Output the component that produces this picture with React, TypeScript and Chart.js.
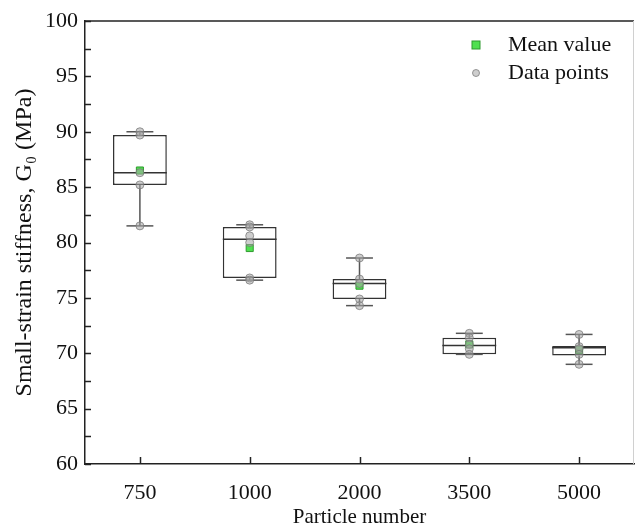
import React, { useEffect, useRef } from "react";
import { Chart, registerables } from "chart.js";

Chart.register(...registerables);

const categories = ["750", "1000", "2000", "3500", "5000"];
const q1 = [85.2, 76.8, 74.9, 69.9, 69.8];
const medians = [86.3, 80.3, 76.3, 70.7, 70.5];
const q3 = [89.7, 81.4, 76.7, 71.4, 70.65];
const whiskerLow = [81.5, 76.6, 74.3, 69.9, 69.0];
const whiskerHigh = [90.0, 81.6, 78.6, 71.8, 71.7];
const means = [86.5, 79.5, 76.1, 70.8, 70.3];
const points750 = [90.0, 89.7, 86.3, 85.2, 81.5];
const points1000 = [81.6, 81.4, 80.6, 80.0, 76.8, 76.6];
const points2000 = [78.6, 76.7, 76.3, 74.9, 74.3];
const points3500 = [71.8, 71.4, 70.8, 70.4, 69.9];
const points5000 = [71.7, 70.6, 70.4, 69.9, 69.0];
const dataPoints = [points750, points1000, points2000, points3500, points5000];
const yTicks = [60, 65, 70, 75, 80, 85, 90, 95, 100];
const legendLabels = ["Mean value", "Data points"];

const FONT = "'Liberation Serif', 'Times New Roman', serif";
const MEAN_FILL = "#50e050";
const MEAN_BORDER = "#2f9a2f";
const PT_FILL = "rgba(165,165,165,0.55)";
const PT_BORDER = "rgba(120,120,120,0.75)";

const boxPlugin = {
  id: "boxExtras",
  afterDatasetDraw(chart: any, args: any) {
    if (args.index !== 0) return;
    const ctx = chart.ctx;
    const x = chart.scales.x;
    const y = chart.scales.y;
    const meta = chart.getDatasetMeta(0);
    ctx.save();
    categories.forEach((c, i) => {
      const bar = meta.data[i];
      const cx = x.getPixelForValue(i);
      const half = bar.width / 2;
      ctx.strokeStyle = "#333";
      ctx.lineWidth = 1.5;
      ctx.beginPath();
      ctx.moveTo(cx - half, y.getPixelForValue(medians[i]));
      ctx.lineTo(cx + half, y.getPixelForValue(medians[i]));
      ctx.stroke();
      ctx.strokeStyle = "#555";
      ctx.lineWidth = 1.5;
      const capHalf = half / 2;
      const pairs = [
        [q3[i], whiskerHigh[i]],
        [q1[i], whiskerLow[i]],
      ];
      pairs.forEach(([from, to]) => {
        const yf = y.getPixelForValue(from);
        const yt = y.getPixelForValue(to);
        ctx.beginPath();
        ctx.moveTo(cx, yf);
        ctx.lineTo(cx, yt);
        ctx.stroke();
        ctx.beginPath();
        ctx.moveTo(cx - capHalf, yt);
        ctx.lineTo(cx + capHalf, yt);
        ctx.stroke();
      });
    });
    ctx.restore();
  },
  afterDraw(chart: any) {
    const ctx = chart.ctx;
    const area = chart.chartArea;
    const x = chart.scales.x;
    const y = chart.scales.y;
    ctx.save();
    ctx.strokeStyle = "#222";
    ctx.lineWidth = 1.5;
    ctx.beginPath();
    ctx.moveTo(area.left, area.top);
    ctx.lineTo(area.right, area.top);
    ctx.stroke();
    ctx.strokeStyle = "#d0d0d0";
    ctx.lineWidth = 1;
    ctx.beginPath();
    ctx.moveTo(area.right - 0.5, area.top);
    ctx.lineTo(area.right - 0.5, area.bottom);
    ctx.stroke();
    ctx.strokeStyle = "#222";
    ctx.lineWidth = 1.5;
    for (let v = 60; v <= 100; v += 2.5) {
      const py = Math.round(y.getPixelForValue(v)) + 0.5;
      ctx.beginPath();
      ctx.moveTo(area.left, py);
      ctx.lineTo(area.left + 6, py);
      ctx.stroke();
    }
    categories.forEach((c, i) => {
      const px = Math.round(x.getPixelForValue(i)) + 0.5;
      ctx.beginPath();
      ctx.moveTo(px, area.bottom);
      ctx.lineTo(px, area.bottom - 7);
      ctx.stroke();
    });
    const lx = 476;
    const rows = [45, 73];
    ctx.fillStyle = MEAN_FILL;
    ctx.strokeStyle = MEAN_BORDER;
    ctx.lineWidth = 1;
    ctx.fillRect(lx - 4, rows[0] - 4, 8, 8);
    ctx.strokeRect(lx - 4, rows[0] - 4, 8, 8);
    ctx.beginPath();
    ctx.arc(lx, rows[1], 3.5, 0, Math.PI * 2);
    ctx.fillStyle = PT_FILL;
    ctx.fill();
    ctx.strokeStyle = PT_BORDER;
    ctx.stroke();
    ctx.fillStyle = "#111";
    ctx.font = `22px ${FONT}`;
    ctx.textBaseline = "middle";
    ctx.textAlign = "left";
    ctx.fillText(legendLabels[0], 508, rows[0]);
    ctx.fillText(legendLabels[1], 508, rows[1]);
    ctx.restore();
  },
};

export default function App() {
  const ref = useRef<HTMLCanvasElement>(null);
  useEffect(() => {
    if (!ref.current) return;
    const pointData: any[] = [];
    dataPoints.forEach((arr, i) =>
      arr.forEach((v) => pointData.push({ x: categories[i], y: v }))
    );
    const chart = new Chart(ref.current, {
      type: "bar",
      data: {
        labels: categories,
        datasets: [
          {
            type: "bar",
            label: "box",
            data: categories.map((c, i) => [q1[i], q3[i]]) as any,
            backgroundColor: "#ffffff",
            borderColor: "#333",
            borderWidth: 1.5,
            borderSkipped: false,
            barPercentage: 0.49,
            categoryPercentage: 1,
            order: 3,
          } as any,
          {
            type: "scatter",
            label: legendLabels[0],
            data: means.map((m, i) => ({ x: categories[i], y: m })) as any,
            pointStyle: "rect",
            pointRadius: 5,
            backgroundColor: MEAN_FILL,
            borderColor: MEAN_BORDER,
            borderWidth: 1,
            order: 2,
          } as any,
          {
            type: "scatter",
            label: legendLabels[1],
            data: pointData,
            pointStyle: "circle",
            pointRadius: 4,
            backgroundColor: PT_FILL,
            borderColor: PT_BORDER,
            borderWidth: 1,
            order: 1,
          } as any,
        ],
      },
      options: {
        animation: false,
        responsive: false,
        devicePixelRatio: 1,
        layout: { autoPadding: false, padding: { top: 21, right: 1, left: 0, bottom: 0 } },
        plugins: { legend: { display: false }, tooltip: { enabled: false } },
        scales: {
          x: {
            type: "category",
            labels: categories,
            offset: true,
            grid: { display: false, drawTicks: false },
            border: { display: true, color: "#222", width: 1.5 },
            ticks: { color: "#111", font: { family: FONT, size: 22 }, padding: 16 },
            title: {
              display: true,
              text: "Particle number",
              color: "#111",
              font: { family: FONT, size: 21 },
              padding: { top: 0, bottom: 0 },
            },
            afterFit: (s: any) => {
              s.height = 66;
              s.paddingLeft = 0;
              s.paddingRight = 0;
            },
          },
          y: {
            min: 60,
            max: 100,
            afterBuildTicks: (s: any) => {
              s.ticks = yTicks.map((v) => ({ value: v }));
            },
            grid: { display: false, drawTicks: false },
            border: { display: true, color: "#222", width: 1.5 },
            ticks: { color: "#111", font: { family: FONT, size: 22 }, padding: 7 },
            title: {
              display: true,
              text: "Small-strain stiffness, G₀ (MPa)",
              color: "#111",
              font: { family: FONT, size: 24 },
              padding: { top: 10, bottom: 0 },
            },
            afterFit: (s: any) => {
              s.width = 85;
            },
          },
        },
      } as any,
      plugins: [boxPlugin],
    });
    return () => chart.destroy();
  }, []);
  return (
    <div style={{ position: "fixed", left: 0, top: 0, width: 635, height: 530, background: "#fff" }}>
      <canvas ref={ref} width={635} height={530} />
    </div>
  );
}
